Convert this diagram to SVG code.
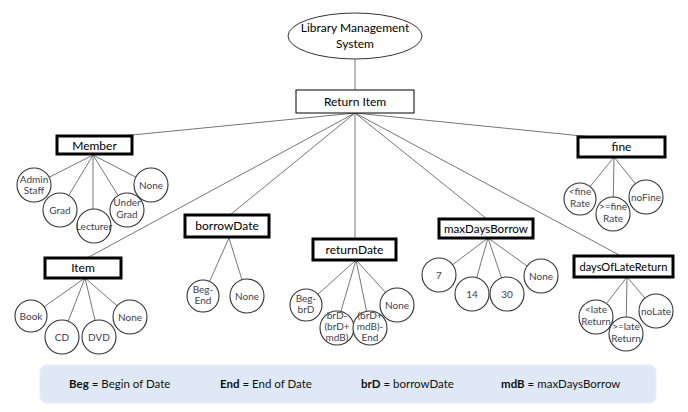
<svg xmlns="http://www.w3.org/2000/svg" width="688" height="412" viewBox="0 0 688 412">
<style>
text{font-family:Lato,"Open Sans","Liberation Sans",sans-serif;text-anchor:middle}
.bx{fill:#fff;stroke:#000;stroke-width:3}
.rb{fill:#fff;stroke:#000;stroke-width:1}
.bt{font-size:12px;fill:#000}
.c{fill:#fff;stroke:#333;stroke-width:1.1}
.ct{font-size:10px;fill:#404050}
.ln{stroke:#666;stroke-width:0.9;fill:none}
.lg{font-size:11.5px;fill:#111;text-anchor:start}
.lg tspan.b{font-weight:bold}
</style>
<rect width="688" height="412" fill="#fff"/>
<g id="connectors" class="ln">
<line x1="355" y1="59" x2="355" y2="90"/>
<line x1="355" y1="113" x2="122" y2="136"/>
<line x1="355" y1="113" x2="87" y2="258"/>
<line x1="355" y1="113" x2="230" y2="215"/>
<line x1="355" y1="113" x2="355" y2="239"/>
<line x1="355" y1="113" x2="487" y2="219"/>
<line x1="355" y1="113" x2="621" y2="256"/>
<line x1="355" y1="113" x2="592" y2="137"/>
<line x1="93" y1="155" x2="34" y2="185"/>
<line x1="93" y1="155" x2="60" y2="210"/>
<line x1="93" y1="155" x2="93" y2="226"/>
<line x1="93" y1="155" x2="127" y2="210"/>
<line x1="93" y1="155" x2="151" y2="185"/>
<line x1="85" y1="278" x2="31" y2="316"/>
<line x1="85" y1="278" x2="62" y2="337"/>
<line x1="85" y1="278" x2="99" y2="337"/>
<line x1="85" y1="278" x2="130" y2="317"/>
<line x1="229" y1="238" x2="203" y2="296"/>
<line x1="229" y1="238" x2="247" y2="296"/>
<line x1="356" y1="260" x2="306" y2="305"/>
<line x1="356" y1="260" x2="336" y2="328"/>
<line x1="356" y1="260" x2="370" y2="328"/>
<line x1="356" y1="260" x2="397" y2="305"/>
<line x1="488" y1="238" x2="439" y2="275"/>
<line x1="488" y1="238" x2="472" y2="294"/>
<line x1="488" y1="238" x2="507" y2="294"/>
<line x1="488" y1="238" x2="541" y2="276"/>
<line x1="614" y1="157" x2="580" y2="199"/>
<line x1="614" y1="157" x2="613" y2="214"/>
<line x1="614" y1="157" x2="646" y2="197"/>
<line x1="627" y1="277" x2="596" y2="317"/>
<line x1="627" y1="277" x2="626" y2="334"/>
<line x1="627" y1="277" x2="656" y2="311"/>
</g>
<g id="root"><ellipse cx="355" cy="36" rx="67" ry="23" fill="#fff" stroke="#333" stroke-width="1"/><text class="bt" x="355" y="32">Library Management</text><text class="bt" x="355" y="48">System</text></g>
<g id="returnItem"><rect class="rb" x="296" y="90" width="118" height="23"/><text class="bt" x="355" y="106">Return Item</text></g>
<g id="member"><rect class="bx" x="57" y="136" width="75" height="18"/><text class="bt" x="94.5" y="149.5">Member</text></g>
<g id="m-admin"><circle class="c" cx="34" cy="185" r="17"/><text class="ct" x="34" y="183">Admin</text><text class="ct" x="34" y="194">Staff</text></g>
<g id="m-grad"><circle class="c" cx="60" cy="210" r="17"/><text class="ct" x="60" y="214">Grad</text></g>
<g id="m-lect"><circle class="c" cx="94" cy="226" r="17"/><text class="ct" x="94" y="230">Lecturer</text></g>
<g id="m-under"><circle class="c" cx="127" cy="210" r="17"/><text class="ct" x="127" y="206">Under</text><text class="ct" x="127" y="218">Grad</text></g>
<g id="m-none"><circle class="c" cx="151" cy="185" r="17"/><text class="ct" x="151" y="189">None</text></g>
<g id="item"><rect class="bx" x="45" y="258" width="76" height="20"/><text class="bt" x="83" y="272">Item</text></g>
<g id="i-book"><circle class="c" cx="31" cy="316" r="16"/><text class="ct" x="31" y="320">Book</text></g>
<g id="i-cd"><circle class="c" cx="62" cy="337" r="17"/><text class="ct" x="62" y="341">CD</text></g>
<g id="i-dvd"><circle class="c" cx="99" cy="337" r="17"/><text class="ct" x="99" y="341">DVD</text></g>
<g id="i-none"><circle class="c" cx="130" cy="317" r="17"/><text class="ct" x="130" y="321">None</text></g>
<g id="borrowDate"><rect class="bx" x="185" y="215" width="84" height="22"/><text class="bt" x="227" y="230">borrowDate</text></g>
<g id="b-begend"><circle class="c" cx="203" cy="296" r="16"/><text class="ct" x="203" y="293">Beg-</text><text class="ct" x="203" y="304">End</text></g>
<g id="b-none"><circle class="c" cx="247" cy="296" r="17"/><text class="ct" x="247" y="300">None</text></g>
<g id="returnDate"><rect class="bx" x="313" y="239" width="83" height="21"/><text class="bt" x="354.5" y="254">returnDate</text></g>
<g id="r-begbrd"><circle class="c" cx="306" cy="305" r="16"/><text class="ct" x="306" y="302">Beg-</text><text class="ct" x="306" y="313">brD</text></g>
<g id="r-brd"><circle class="c" cx="337" cy="328" r="17"/><text class="ct" x="337" y="319">brD-</text><text class="ct" x="337" y="330">(brD+</text><text class="ct" x="337" y="341">mdB)</text></g>
<g id="r-end"><circle class="c" cx="370" cy="328" r="17"/><text class="ct" x="370" y="319">(brD+</text><text class="ct" x="370" y="330">mdB)-</text><text class="ct" x="370" y="341">End</text></g>
<g id="r-none"><circle class="c" cx="397" cy="305" r="17"/><text class="ct" x="397" y="309">None</text></g>
<g id="maxDaysBorrow"><rect class="bx" x="439" y="219" width="94" height="19"/><text class="bt" x="486" y="233" textLength="84" lengthAdjust="spacingAndGlyphs">maxDaysBorrow</text></g>
<g id="x-7"><circle class="c" cx="439" cy="275" r="17"/><text class="ct" x="439" y="279">7</text></g>
<g id="x-14"><circle class="c" cx="472" cy="294" r="17"/><text class="ct" x="472" y="298">14</text></g>
<g id="x-30"><circle class="c" cx="507" cy="294" r="17"/><text class="ct" x="507" y="298">30</text></g>
<g id="x-none"><circle class="c" cx="541" cy="276" r="17"/><text class="ct" x="541" y="280">None</text></g>
<g id="fine"><rect class="bx" x="578" y="137" width="87" height="20"/><text class="bt" x="621.5" y="151">fine</text></g>
<g id="f-lt"><circle class="c" cx="580" cy="199" r="16"/><text class="ct" x="580" y="195">&lt;fine</text><text class="ct" x="580" y="207">Rate</text></g>
<g id="f-ge"><circle class="c" cx="613" cy="214" r="17"/><text class="ct" x="613" y="210">&gt;=fine</text><text class="ct" x="613" y="222">Rate</text></g>
<g id="f-no"><circle class="c" cx="646" cy="197" r="17"/><text class="ct" x="646" y="201">noFine</text></g>
<g id="daysOfLateReturn"><rect class="bx" x="574" y="256" width="99" height="21"/><text class="bt" x="623.5" y="271" textLength="88" lengthAdjust="spacingAndGlyphs">daysOfLateReturn</text></g>
<g id="d-lt"><circle class="c" cx="596" cy="317" r="17"/><text class="ct" x="596" y="313">&lt;late</text><text class="ct" x="596" y="325">Return</text></g>
<g id="d-ge"><circle class="c" cx="626" cy="334" r="17"/><text class="ct" x="626" y="330">&gt;=late</text><text class="ct" x="626" y="342">Return</text></g>
<g id="d-no"><circle class="c" cx="656" cy="311" r="17"/><text class="ct" x="656" y="315">noLate</text></g>
<g id="legend"><rect x="40" y="365" width="616" height="38" rx="7" fill="#dfe9f5" stroke="#e8eef7"/>
<text class="lg" x="69" y="388"><tspan class="b">Beg</tspan> = Begin of Date</text>
<text class="lg" x="220" y="388"><tspan class="b">End</tspan> = End of Date</text>
<text class="lg" x="361" y="388"><tspan class="b">brD</tspan> = borrowDate</text>
<text class="lg" x="501" y="388"><tspan class="b">mdB</tspan> = maxDaysBorrow</text>
</g>
</svg>
